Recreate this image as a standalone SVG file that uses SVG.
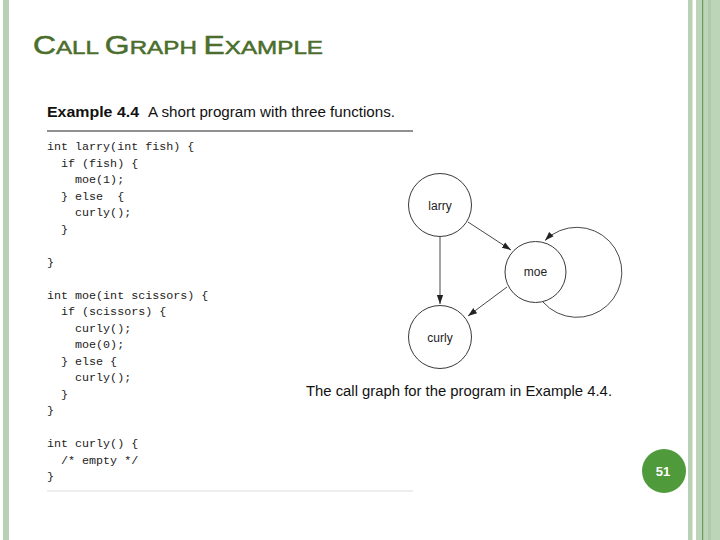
<svg xmlns="http://www.w3.org/2000/svg" width="720" height="540" viewBox="0 0 720 540">
<style>
.code{font-family:"Liberation Mono","DejaVu Sans Mono",monospace;font-size:11.7px;fill:#222}
.cap{font-family:"Liberation Sans",Arial,sans-serif;font-size:14px;fill:#111}
.node circle{fill:#fff;stroke:#222;stroke-width:0.9}
.node text{font-family:"Liberation Sans",Arial,sans-serif;font-size:12px;fill:#222;text-anchor:middle}
.edge{fill:none;stroke:#333;stroke-width:0.9;marker-end:url(#ah)}
</style>
<defs>
<marker id="ah" viewBox="0 0 10 10" refX="10" refY="5" markerWidth="9" markerHeight="9" markerUnits="userSpaceOnUse" orient="auto">
<path d="M0,1.5 L10,5 L0,8.5 Z" fill="#222"/>
</marker>
</defs>
<rect width="720" height="540" fill="#fff"/>
<!-- borders -->
<rect x="3" y="0" width="6" height="540" fill="#b8d0b4"/>
<rect x="688" y="0" width="4.5" height="540" fill="#b8d0b4"/>
<rect x="696" y="0" width="24" height="540" fill="#bcd5b8"/>
<rect x="702" y="0" width="1.2" height="540" fill="#6a9a5c"/>
<rect x="708" y="0" width="3" height="540" fill="#aecaa9"/>
<!-- title -->
<text x="33" y="54" font-family="'Liberation Sans',Arial,sans-serif" fill="#4b6e2c" stroke="#4b6e2c" stroke-width="0.5" textLength="290" lengthAdjust="spacingAndGlyphs"><tspan font-size="25">C</tspan><tspan font-size="19">ALL </tspan><tspan font-size="25">G</tspan><tspan font-size="19">RAPH </tspan><tspan font-size="25">E</tspan><tspan font-size="19">XAMPLE</tspan></text>
<!-- header -->
<text class="cap" x="47" y="117" font-weight="bold" textLength="92" lengthAdjust="spacingAndGlyphs">Example 4.4</text>
<text class="cap" x="148" y="117" textLength="247" lengthAdjust="spacingAndGlyphs">A short program with three functions.</text>
<line x1="47" y1="131" x2="413" y2="131" stroke="#222" stroke-width="1"/>
<line x1="47" y1="491" x2="413" y2="491" stroke="#ddd" stroke-width="1"/>
<!-- code -->
<g class="code">
<text x="47" y="150">int larry(int fish) {</text>
<text x="47" y="166.5" xml:space="preserve">  if (fish) {</text>
<text x="47" y="183" xml:space="preserve">    moe(1);</text>
<text x="47" y="199.5" xml:space="preserve">  } else  {</text>
<text x="47" y="216" xml:space="preserve">    curly();</text>
<text x="47" y="232.5" xml:space="preserve">  }</text>
<text x="47" y="265.5">}</text>
<text x="47" y="298.5">int moe(int scissors) {</text>
<text x="47" y="315" xml:space="preserve">  if (scissors) {</text>
<text x="47" y="331.5" xml:space="preserve">    curly();</text>
<text x="47" y="348" xml:space="preserve">    moe(0);</text>
<text x="47" y="364.5" xml:space="preserve">  } else {</text>
<text x="47" y="381" xml:space="preserve">    curly();</text>
<text x="47" y="397.5" xml:space="preserve">  }</text>
<text x="47" y="414">}</text>
<text x="47" y="447">int curly() {</text>
<text x="47" y="463.5" xml:space="preserve">  /* empty */</text>
<text x="47" y="480">}</text>
</g>
<!-- connectors -->
<g id="edges">
<line class="edge" x1="440" y1="237" x2="440" y2="304"/>
<line class="edge" x1="468" y1="222" x2="511" y2="250"/>
<line class="edge" x1="507" y1="287" x2="468" y2="316"/>
<path class="edge" d="M543,302 A45,45 0 1 0 545,240.5"/>
</g>
<!-- nodes -->
<g id="larry" class="node"><circle cx="440" cy="205" r="31.5"/><text x="440" y="210">larry</text></g>
<g id="moe" class="node"><circle cx="535.5" cy="272" r="30.5"/><text x="535.5" y="276">moe</text></g>
<g id="curly" class="node"><circle cx="440" cy="337" r="31.5"/><text x="440" y="342">curly</text></g>
<!-- caption -->
<text class="cap" x="306" y="396" textLength="306" lengthAdjust="spacingAndGlyphs">The call graph for the program in Example 4.4.</text>
<!-- page number -->
<g id="page">
<circle cx="664" cy="471" r="22" fill="#4f9a3b"/>
<text x="663" y="476" font-family="'Liberation Sans',Arial,sans-serif" font-size="13" font-weight="bold" fill="#fff" text-anchor="middle">51</text>
</g>
</svg>
